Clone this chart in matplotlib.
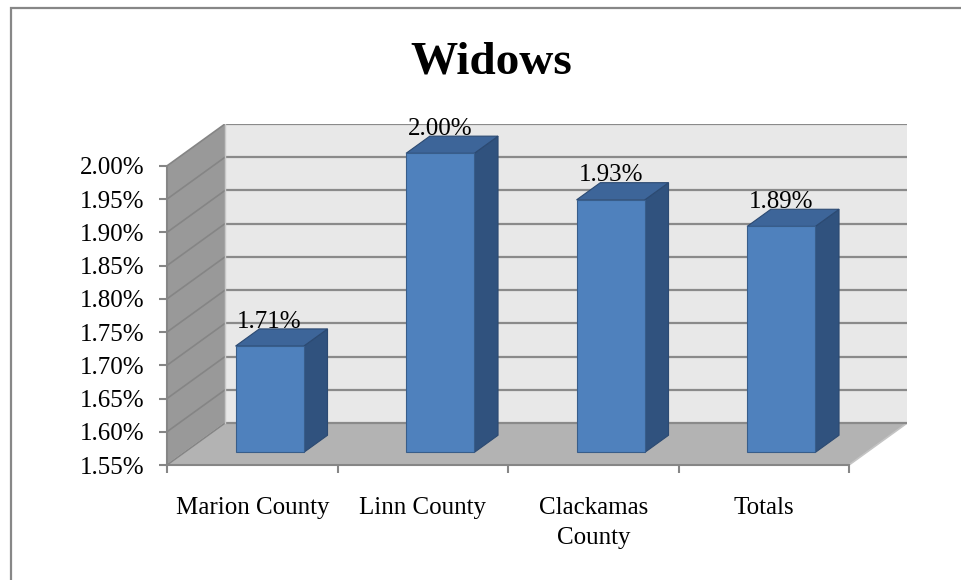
import matplotlib
matplotlib.use("Agg")
import matplotlib.pyplot as plt
from matplotlib.patches import Polygon, Rectangle

plt.rcParams['font.family'] = ['Liberation Serif', 'DejaVu Serif']

# data
categories = ['Marion County', 'Linn County', 'Clackamas\nCounty', 'Totals']
values = [1.71, 2.00, 1.93, 1.89]          # percent
y_ticks = [1.55, 1.60, 1.65, 1.70, 1.75, 1.80, 1.85, 1.90, 1.95, 2.00]
title = 'Widows'

# fake 3d depth, in data units
DX, DY = 0.34, 0.063
F0, G = 0.30, 0.41       # bar front depth, bar depth
BW = 0.40                # bar width

GRID = '#8a8a8a'
AXC = '#868686'

fig = plt.figure(figsize=(9.61, 5.8), dpi=100)
ax = fig.add_axes([167 / 961, 115 / 580, 740 / 961, 341 / 580])
ax.set_xlim(-0.5, len(categories) - 0.5 + DX)
ax.set_ylim(y_ticks[0], y_ticks[-1] + DY)
ax.patch.set_visible(False)

lo, hi = y_ticks[0], y_ticks[-1]
left, right = -0.5, len(categories) - 0.5

# walls and floor
ax.add_patch(Polygon([(left + DX, lo + DY), (right + DX, lo + DY), (right + DX, hi + DY), (left + DX, hi + DY)],
                     closed=True, facecolor='#e8e8e8', edgecolor='none', zorder=0))
ax.add_patch(Polygon([(left, lo), (left + DX, lo + DY), (left + DX, hi + DY), (left, hi)],
                     closed=True, facecolor='#999999', edgecolor='none', zorder=0))
ax.add_patch(Polygon([(left, lo), (right, lo), (right + DX, lo + DY), (left + DX, lo + DY)],
                     closed=True, facecolor='#b3b3b3', edgecolor='#c4c4c4', lw=1.2, zorder=0.5))
for t in y_ticks:
    ax.plot([left + DX, right + DX], [t + DY, t + DY], color=GRID, lw=1.6, zorder=1, solid_capstyle='butt')
    ax.plot([left, left + DX], [t, t + DY], color='#858585', lw=1.2, zorder=1)
ax.plot([left + DX, left + DX], [lo + DY, hi + DY], color='#c8c8c8', lw=1.0, zorder=1)

# bars
for i, v in enumerate(values):
    x0 = i - BW / 2 + F0 * DX
    x1 = x0 + BW
    y0 = lo + F0 * DY
    y1 = v + F0 * DY
    side = [(x1, y0), (x1 + G * DX, y0 + G * DY), (x1 + G * DX, y1 + G * DY), (x1, y1)]
    top = [(x0, y1), (x1, y1), (x1 + G * DX, y1 + G * DY), (x0 + G * DX, y1 + G * DY)]
    front = [(x0, y0), (x1, y0), (x1, y1), (x0, y1)]
    ax.add_patch(Polygon(side, closed=True, facecolor='#30527e', edgecolor='#2c4a72', lw=0.8, zorder=3))
    ax.add_patch(Polygon(top, closed=True, facecolor='#3d6599', edgecolor='#2c4a72', lw=0.8, zorder=3))
    ax.add_patch(Polygon(front, closed=True, facecolor='#4f81bd', edgecolor='#385d8a', lw=0.8, zorder=3))
    ax.text(i + F0 * DX, v + (F0 + G) * DY + 0.002, '{:.2f}%'.format(v),
            ha='center', va='baseline', fontsize=18, zorder=4)

# axes
for s in ['top', 'right']:
    ax.spines[s].set_visible(False)
for s in ['left', 'bottom']:
    ax.spines[s].set_color(AXC)
    ax.spines[s].set_linewidth(1.5)
ax.spines['left'].set_bounds(lo, hi)
ax.spines['bottom'].set_bounds(left, right)

ax.set_yticks(y_ticks)
ax.set_yticklabels(['{:.2f}%'.format(t) for t in y_ticks])
ax.tick_params(axis='y', length=6, width=1.5, color=AXC, pad=10, labelsize=18)

ax.set_xticks([left + k for k in range(len(categories) + 1)])
ax.set_xticklabels([])
ax.tick_params(axis='x', which='major', length=6, width=1.5, color=AXC)
ax.set_xticks(range(len(categories)), minor=True)
ax.set_xticklabels(categories, minor=True, linespacing=1.45)
ax.tick_params(axis='x', which='minor', length=0, pad=23, labelsize=18)

fig.text(491 / 961, 1 - 73 / 580, title, ha='center', va='baseline', fontsize=34, fontweight='bold')

# outer frame (only top/left edge visible)
fig.patches.append(Rectangle((11 / 961, -0.1), 1.2, 1.1 - 8 / 580, transform=fig.transFigure,
                             fill=False, edgecolor='#878787', lw=1.6))

fig.savefig('out.png', dpi=100)
